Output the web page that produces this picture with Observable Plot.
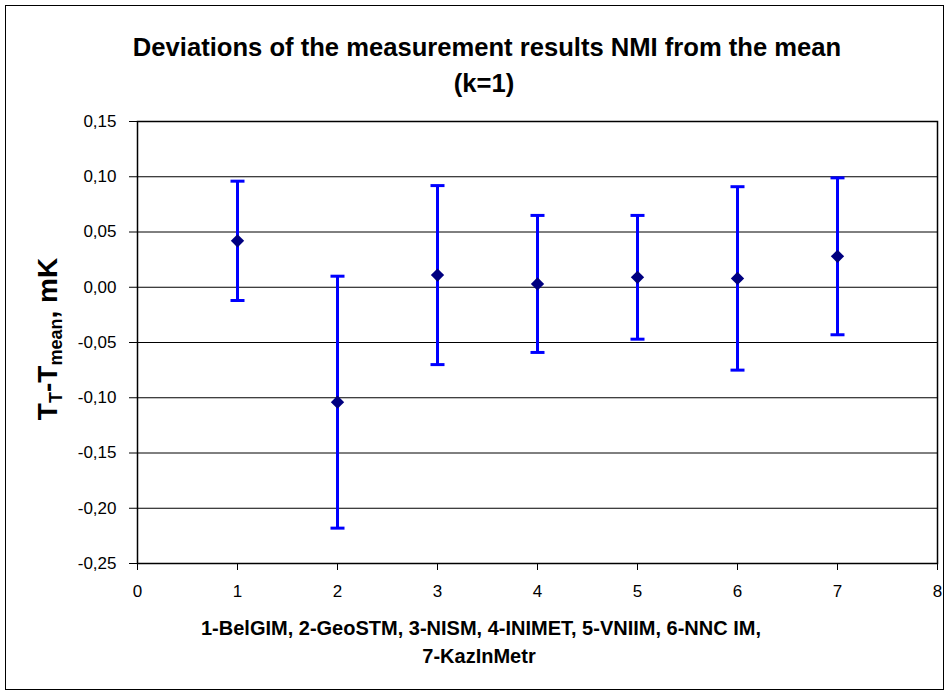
<!DOCTYPE html>
<html>
<head>
<meta charset="utf-8">
<script src="https://cdn.jsdelivr.net/npm/d3@7"></script>
<script src="https://cdn.jsdelivr.net/npm/@observablehq/plot@0.6"></script>
<style>
  html, body { margin: 0; padding: 0; background: #fff; }
  svg { display: block; }
</style>
</head>
<body>
<div id="chart"></div>
<script>
// Participants (x index) and results
const labIndex = [1, 2, 3, 4, 5, 6, 7];
const labNames = ["BelGIM", "GeoSTM", "NISM", "INIMET", "VNIIM", "NNC IM", "KazInMetr"];
const deviation = [0.042, -0.104, 0.011, 0.003, 0.009, 0.008, 0.028];
const uncertainty = [0.054, 0.114, 0.081, 0.062, 0.056, 0.083, 0.071];

const yTicks = [-0.25, -0.20, -0.15, -0.10, -0.05, 0.00, 0.05, 0.10, 0.15];
const xTicks = [0, 1, 2, 3, 4, 5, 6, 7, 8];

const titleLines = ["Deviations of the measurement results NMI from the mean", "(k=1)"];
const captionLines = ["1-BelGIM, 2-GeoSTM, 3-NISM, 4-INIMET, 5-VNIIM, 6-NNC IM,", "7-KazInMetr"];

const data = labIndex.map((n, i) => ({
  n, name: labNames[i], v: deviation[i],
  lo: deviation[i] - uncertainty[i], hi: deviation[i] + uncertainty[i]
}));

const fmt = d => d.toFixed(2).replace(".", ",");

const capSymbol = {
  draw(ctx, size) { ctx.moveTo(-7, 0); ctx.lineTo(7, 0); }
};

const FONT = "'Liberation Sans', Arial, sans-serif";
const W = 949, H = 695;
const plot = Plot.plot({
  width: W, height: H,
  marginLeft: 137, marginRight: 12, marginTop: 121, marginBottom: 132,
  style: { fontFamily: FONT, color: "#000", background: "#fff" },
  x: { domain: [0, 8], label: null },
  y: { domain: [-0.25, 0.15], label: null },
  marks: [
    Plot.ruleY(yTicks, { stroke: "#000", strokeWidth: 1 }),
    Plot.frame({ stroke: "#000", strokeWidth: 1.5 }),
    Plot.axisY({ ticks: yTicks, tickSize: 8, tickPadding: 13, tickFormat: fmt, label: null }),
    Plot.axisX({ ticks: xTicks, tickSize: 7, tickPadding: 14, tickFormat: d => String(d), label: null }),
    Plot.ruleX(data, { x: "n", y1: "lo", y2: "hi", stroke: "#0000ff", strokeWidth: 3 }),
    Plot.dot(data, { x: "n", y: "hi", symbol: capSymbol, stroke: "#0000ff", strokeWidth: 3, fill: "none" }),
    Plot.dot(data, { x: "n", y: "lo", symbol: capSymbol, stroke: "#0000ff", strokeWidth: 3, fill: "none" }),
    Plot.dot(data, { x: "n", y: "v", symbol: "diamond2", r: 6, fill: "#000080", stroke: "none" })
  ]
});

const svg = d3.select(plot);
// larger tick labels
svg.selectAll('g[aria-label$="tick label"]').attr("font-size", 17).style("font-size", "17px");

// outer chart border
svg.insert("rect", ":first-child")
  .attr("x", 5.5).attr("y", 5.5).attr("width", W - 11).attr("height", H - 11)
  .attr("fill", "#fff").attr("stroke", "#000").attr("stroke-width", 1);

// title
svg.append("text")
  .attr("x", 487).attr("y", 56)
  .attr("text-anchor", "middle").attr("font-family", FONT).attr("font-weight", "bold").attr("font-size", 25.6)
  .text(titleLines[0]);
svg.append("text")
  .attr("x", 484).attr("y", 92)
  .attr("text-anchor", "middle").attr("font-family", FONT).attr("font-weight", "bold").attr("font-size", 25.6)
  .text(titleLines[1]);

// y-axis label with subscripts
const yl = svg.append("text")
  .attr("transform", "translate(57,339) rotate(-90)")
  .attr("text-anchor", "middle").attr("font-family", FONT).attr("font-weight", "bold").attr("font-size", 28);
yl.append("tspan").text("T");
yl.append("tspan").attr("font-size", 18).attr("dy", 5).text("T");
yl.append("tspan").attr("dy", -5).text("-T");
yl.append("tspan").attr("font-size", 18).attr("dy", 5).text("mean");
yl.append("tspan").attr("dy", -5).text(", mK");

// x caption
svg.append("text")
  .attr("x", 481).attr("y", 635)
  .attr("text-anchor", "middle").attr("font-family", FONT).attr("font-weight", "bold").attr("font-size", 20)
  .text(captionLines[0]);
svg.append("text")
  .attr("x", 479).attr("y", 663)
  .attr("text-anchor", "middle").attr("font-family", FONT).attr("font-weight", "bold").attr("font-size", 20)
  .text(captionLines[1]);

document.getElementById("chart").appendChild(plot);
</script>
</body>
</html>
